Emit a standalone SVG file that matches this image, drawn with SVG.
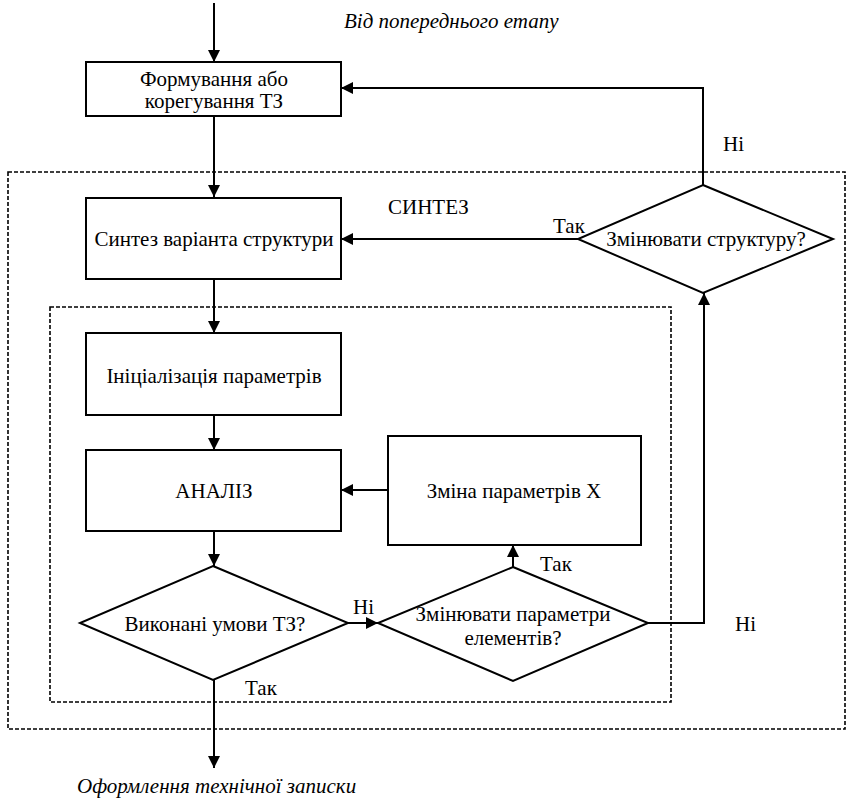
<svg xmlns="http://www.w3.org/2000/svg" width="847" height="801" viewBox="0 0 847 801">
<defs>
<marker id="arr" markerUnits="userSpaceOnUse" markerWidth="12" markerHeight="12" refX="12" refY="6" orient="auto">
<path d="M0,0 L12,6 L0,12 z" fill="#000"/>
</marker>
<style>
.box{fill:#fff;stroke:#000;stroke-width:2}
.dash{fill:none;stroke:#000;stroke-width:1.6;stroke-dasharray:4,2}
.ln{fill:none;stroke:#000;stroke-width:2}
text{font-family:'Liberation Serif','Times New Roman',serif;font-size:21px;fill:#000}
.t{text-anchor:middle}
.i{font-style:italic}
</style>
</defs>
<rect width="847" height="801" fill="#fff"/>
<g id="frames">
<rect class="dash" x="8" y="172" width="837" height="557"/>
<rect class="dash" x="50" y="307" width="621" height="395"/>
</g>
<g id="connectors">
<path class="ln" d="M214,3 V62" marker-end="url(#arr)"/>
<path class="ln" d="M214,116 V197" marker-end="url(#arr)"/>
<path class="ln" d="M703,185 V88 H341" marker-end="url(#arr)"/>
<path class="ln" d="M578,239 H341" marker-end="url(#arr)"/>
<path class="ln" d="M214,279 V333" marker-end="url(#arr)"/>
<path class="ln" d="M214,415 V450" marker-end="url(#arr)"/>
<path class="ln" d="M388,490 H341" marker-end="url(#arr)"/>
<path class="ln" d="M214,531 V566" marker-end="url(#arr)"/>
<path class="ln" d="M348,623 H378" marker-end="url(#arr)"/>
<path class="ln" d="M513,567 V545" marker-end="url(#arr)"/>
<path class="ln" d="M648,623 H704 V293" marker-end="url(#arr)"/>
<path class="ln" d="M214,680 V768" marker-end="url(#arr)"/>
</g>
<g id="labels">
<text class="i" x="344" y="28">Від попереднього етапу</text>
<text class="i" x="77" y="793">Оформлення технічної записки</text>
<text x="388" y="214">СИНТЕЗ</text>
<text x="723" y="151">Ні</text>
<text x="553" y="233">Так</text>
<text x="353" y="614">Ні</text>
<text x="540" y="571">Так</text>
<text x="735" y="631">Ні</text>
<text x="245" y="695">Так</text>
</g>
<g id="n1">
<rect class="box" x="86" y="62" width="255" height="54"/>
<text class="t" x="214" y="86">Формування або</text>
<text class="t" x="214" y="108">корегування ТЗ</text>
</g>
<g id="n2">
<rect class="box" x="86" y="198" width="255" height="81"/>
<text class="t" x="214" y="246">Синтез варіанта структури</text>
</g>
<g id="n3">
<rect class="box" x="86" y="333" width="255" height="82"/>
<text class="t" x="214" y="383">Ініціалізація параметрів</text>
</g>
<g id="n4">
<rect class="box" x="86" y="450" width="255" height="81"/>
<text class="t" x="214" y="498">АНАЛІЗ</text>
</g>
<g id="n5">
<rect class="box" x="388" y="436" width="253" height="109"/>
<text class="t" x="514" y="498">Зміна параметрів Х</text>
</g>
<g id="d1">
<polygon class="box" points="703,185 833,239 703,293 578,239"/>
<text class="t" x="706" y="246">Змінювати структуру?</text>
</g>
<g id="d2">
<polygon class="box" points="213,566 348,623 213,680 80,623"/>
<text class="t" x="215" y="631">Виконані умови ТЗ?</text>
</g>
<g id="d3">
<polygon class="box" points="513,567 648,623 513,681 378,623"/>
<text class="t" x="513" y="621">Змінювати параметри</text>
<text class="t" x="513" y="645">елементів?</text>
</g>
</svg>
